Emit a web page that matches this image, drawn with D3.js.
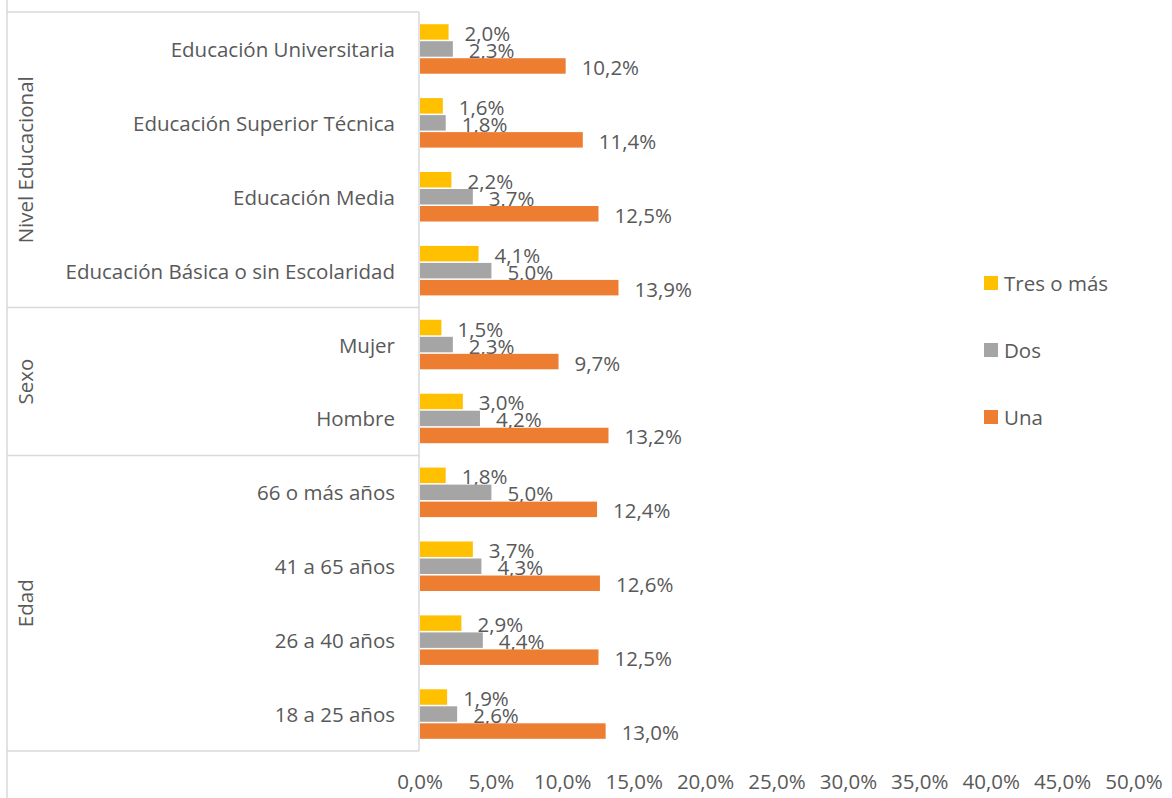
<!DOCTYPE html>
<html>
<head>
<meta charset="utf-8">
<script src="https://cdn.jsdelivr.net/npm/d3@7"></script>
<style>
  body { margin: 0; background: #fff; }
  svg text { font-family: "Open Sans", sans-serif; fill: #595959; }
</style>
</head>
<body>
<svg id="chart" width="1172" height="798"></svg>
<script>
// categories from top to bottom
var categories = ["Educación Universitaria", "Educación Superior Técnica", "Educación Media",
    "Educación Básica o sin Escolaridad", "Mujer", "Hombre",
    "66 o más años", "41 a 65 años", "26 a 40 años", "18 a 25 años"];
var groups = [
    { name: "Nivel Educacional", first: 0, last: 3 },
    { name: "Sexo", first: 4, last: 5 },
    { name: "Edad", first: 6, last: 9 }
];
var seriesNames = ["Tres o más", "Dos", "Una"];
var seriesColors = ["#FFC000", "#A5A5A5", "#ED7D31"];
var tresOMas = [2.0, 1.6, 2.2, 4.1, 1.5, 3.0, 1.8, 3.7, 2.9, 1.9];
var dos = [2.3, 1.8, 3.7, 5.0, 2.3, 4.2, 5.0, 4.3, 4.4, 2.6];
var una = [10.2, 11.4, 12.5, 13.9, 9.7, 13.2, 12.4, 12.6, 12.5, 13.0];
var xTicks = [0, 5, 10, 15, 20, 25, 30, 35, 40, 45, 50];

var seriesValues = [tresOMas, dos, una];
var fmt = function(v) { return d3.format(".1f")(v).replace(".", ",") + "%"; };
var fontSize = "20.5px";

var svg = d3.select("#chart");
var plotTop = 12, plotBottom = 751, axisX = 419, leftX = 7;

var x = d3.scaleLinear().domain([0, 50]).range([420, 1134]);
var y = d3.scaleBand().domain(categories).range([plotTop, plotBottom])
    .paddingInner(0.33).paddingOuter(0.165);
var ySub = d3.scaleBand().domain(seriesNames).range([0, y.bandwidth()]).paddingInner(0.09);

// category box lines
var lineColor = "#d9d9d9";
svg.append("line").attr("x1", leftX).attr("x2", leftX).attr("y1", 0).attr("y2", 798)
    .attr("stroke", lineColor).attr("stroke-width", 1.5);
var step = y.step();
var bounds = [0];
groups.forEach(function(g) { bounds.push(g.last + 1); });
bounds.forEach(function(b) {
    var yy = plotTop + b * step;
    svg.append("line").attr("x1", leftX).attr("x2", axisX).attr("y1", yy).attr("y2", yy)
        .attr("stroke", lineColor).attr("stroke-width", 1.5);
});
svg.append("line").attr("x1", axisX).attr("x2", axisX).attr("y1", plotTop).attr("y2", plotBottom)
    .attr("stroke", lineColor).attr("stroke-width", 1.5);

// group labels, rotated
groups.forEach(function(g) {
    var cy = plotTop + (g.first + g.last + 1) / 2 * step;
    svg.append("text")
        .attr("transform", "translate(25," + cy + ") rotate(-90)")
        .attr("text-anchor", "middle")
        .attr("dominant-baseline", "central")
        .style("font-size", fontSize)
        .text(g.name);
});

// category labels
svg.append("g").selectAll("text").data(categories).enter().append("text")
    .attr("x", 395)
    .attr("y", function(d) { return y(d) + y.bandwidth() / 2; })
    .attr("text-anchor", "end")
    .attr("dominant-baseline", "central")
    .style("font-size", fontSize)
    .text(function(d) { return d; });

// bars and labels
seriesNames.forEach(function(s, si) {
    var g = svg.append("g");
    var vals = seriesValues[si];
    g.selectAll("rect").data(categories).enter().append("rect")
        .attr("x", x(0))
        .attr("y", function(d) { return y(d) + ySub(s); })
        .attr("width", function(d, i) { return x(vals[i]) - x(0); })
        .attr("height", ySub.bandwidth())
        .attr("fill", seriesColors[si]);
    g.selectAll("text").data(categories).enter().append("text")
        .attr("x", function(d, i) { return x(vals[i]) + 16; })
        .attr("y", function(d) { return y(d) + ySub(s) + ySub.bandwidth() / 2 + 1; })
        .attr("dominant-baseline", "central")
        .style("font-size", fontSize)
        .text(function(d, i) { return fmt(vals[i]); });
});

// x axis tick labels
svg.append("g").selectAll("text").data(xTicks).enter().append("text")
    .attr("x", function(d) { return x(d); })
    .attr("y", 781)
    .attr("text-anchor", "middle")
    .attr("dominant-baseline", "central")
    .style("font-size", fontSize)
    .text(function(d) { return fmt(d); });

// legend
var legend = svg.append("g").selectAll("g").data(seriesNames).enter().append("g")
    .attr("transform", function(d, i) { return "translate(984," + (283 + i * 67) + ")"; });
legend.append("rect").attr("x", 0).attr("y", -7).attr("width", 14).attr("height", 14)
    .attr("fill", function(d, i) { return seriesColors[i]; });
legend.append("text").attr("x", 20).attr("y", 0)
    .attr("dominant-baseline", "central")
    .style("font-size", fontSize)
    .text(function(d) { return d; });
</script>
</body>
</html>
